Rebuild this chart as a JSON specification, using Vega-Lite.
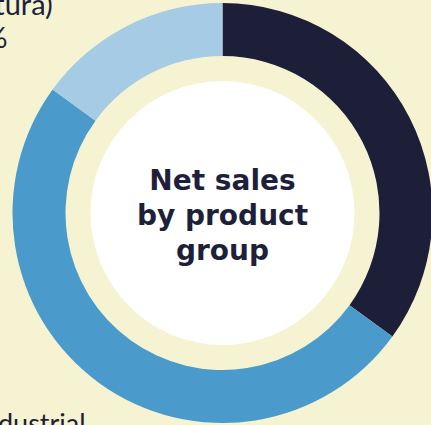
{
  "$schema": "https://vega.github.io/schema/vega-lite/v6.json",
  "width": 417,
  "height": 424,
  "autosize": {"type": "none"},
  "padding": {"left": 14, "top": 1, "right": 0, "bottom": 0},
  "background": "#f5f3d1",
  "config": {"view": {"stroke": null}},
  "data": {
    "values": [
      {"group": "Pulp and paper", "share": 35, "order": 1, "label": ""},
      {"group": "Industrial", "share": 50, "order": 2, "label": "Industrial\n50%"},
      {"group": "Natura", "share": 15, "order": 3, "label": "(Natura)\n15%"}
    ]
  },
  "layer": [
    {
      "mark": {"type": "arc", "outerRadius": 210, "innerRadius": 157},
      "encoding": {
        "theta": {"field": "share", "type": "quantitative", "stack": true},
        "order": {"field": "order", "type": "quantitative"},
        "color": {
          "field": "group",
          "type": "nominal",
          "scale": {"domain": ["Pulp and paper", "Industrial", "Natura"], "range": ["#1d1f38", "#4a9bcb", "#a6cbe4"]},
          "legend": null
        }
      }
    },
    {
      "data": {"values": [{}]},
      "mark": {"type": "arc", "theta": 0, "theta2": 6.2832, "outerRadius": 132, "innerRadius": 0, "color": "#ffffff"},
      "encoding": {}
    },
    {
      "data": {"values": [{}]},
      "mark": {
        "type": "text",
        "text": ["Net sales", "by product", "group"],
        "font": "DejaVu Sans",
        "fontWeight": "bold",
        "fontSize": 28,
        "lineHeight": 35,
        "align": "center",
        "baseline": "middle",
        "color": "#1e1f3a",
        "dy": -31
      },
      "encoding": {}
    },
    {
      "mark": {
        "type": "text",
        "font": "Lato",
        "fontSize": 29,
        "lineHeight": 33,
        "lineBreak": "\n",
        "align": "left",
        "baseline": "alphabetic",
        "color": "#1e1f3a",
        "dx": -172,
        "dy": -2
      },
      "encoding": {
        "theta": {"field": "share", "type": "quantitative", "stack": true},
        "order": {"field": "order", "type": "quantitative"},
        "radius": {"value": 220},
        "text": {"condition": {"test": "datum.group === 'Natura'", "field": "label"}, "value": ""}
      }
    },
    {
      "mark": {
        "type": "text",
        "font": "Lato",
        "fontSize": 27,
        "lineHeight": 32,
        "lineBreak": "\n",
        "align": "left",
        "baseline": "alphabetic",
        "color": "#1e1f3a",
        "dx": -100,
        "dy": 18
      },
      "encoding": {
        "theta": {"field": "share", "type": "quantitative", "stack": true},
        "order": {"field": "order", "type": "quantitative"},
        "radius": {"value": 250},
        "text": {"condition": {"test": "datum.group === 'Industrial'", "field": "label"}, "value": ""}
      }
    }
  ]
}
